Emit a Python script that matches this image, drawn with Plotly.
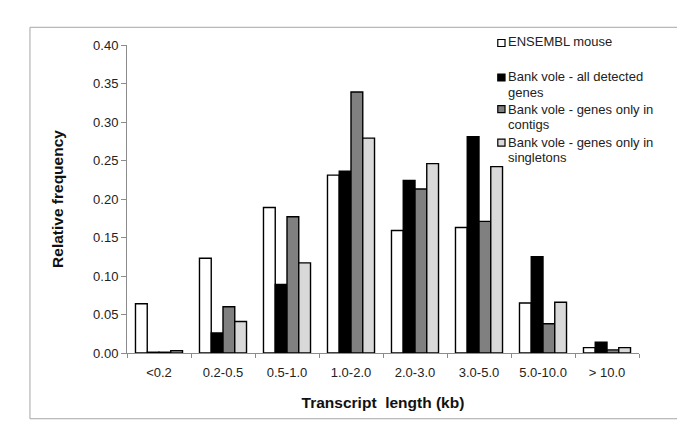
import plotly.graph_objects as go

categories = ["<0.2", "0.2-0.5", "0.5-1.0", "1.0-2.0", "2.0-3.0", "3.0-5.0", "5.0-10.0", "> 10.0"]
ensembl_mouse = [0.064, 0.123, 0.189, 0.231, 0.159, 0.163, 0.065, 0.007]
vole_all = [0.001, 0.026, 0.089, 0.236, 0.224, 0.281, 0.125, 0.014]
vole_contigs = [0.001, 0.060, 0.177, 0.339, 0.213, 0.171, 0.038, 0.004]
vole_singletons = [0.003, 0.041, 0.117, 0.279, 0.246, 0.242, 0.066, 0.007]

series_names = ["ENSEMBL mouse",
                "Bank vole - all detected<br>genes",
                "Bank vole - genes only in<br>contigs",
                "Bank vole - genes only in<br>singletons"]
series_values = [ensembl_mouse, vole_all, vole_contigs, vole_singletons]
series_colors = ["#ffffff", "#000000", "#808080", "#d9d9d9"]

FONT = "Liberation Sans, Arial, sans-serif"

# plot area in screen pixels (page has an 8px body margin)
PX0, PX1, PY_TOP, PY_BOT = 127.3, 623.3, 45.0, 352.8


def xp(X):
    return (X - PX0) / (PX1 - PX0)


def yp(Y):
    return (PY_BOT - Y) / (PY_BOT - PY_TOP)


fig = go.Figure()
for name, vals, col in zip(series_names, series_values, series_colors):
    fig.add_trace(go.Bar(
        x=categories, y=vals, name=name.replace("<br>", " "),
        marker=dict(color=col, line=dict(color="#000000", width=1.4)),
    ))

# manual legend (square swatch + left-aligned text lines)
legend_marker_y = [43.0, 77.5, 109.0, 142.5]
legend_line_y = [[42.0], [76.0, 92.0], [109.0, 124.5], [142.0, 157.0]]
shapes = [dict(type="rect", xref="paper", yref="paper",
               x0=xp(33.3), x1=xp(666.0), y0=yp(418.5), y1=yp(27.3),
               line=dict(color="#a6a6a6", width=1), fillcolor="rgba(0,0,0,0)",
               layer="below")]
annotations = []
for name, col, my, lys in zip(series_names, series_colors, legend_marker_y, legend_line_y):
    shapes.append(dict(type="rect", xref="paper", yref="paper",
                       x0=xp(486.5), x1=xp(493.5), y0=yp(my + 3.5), y1=yp(my - 3.5),
                       line=dict(color="#000000", width=1.2), fillcolor=col))
    for line_text, ly in zip(name.split("<br>"), lys):
        annotations.append(dict(xref="paper", yref="paper", x=xp(494.5), y=yp(ly),
                                xanchor="left", yanchor="middle", showarrow=False,
                                text=line_text,
                                font=dict(family=FONT, size=13, color="#222222")))

fig.update_layout(
    width=677, height=438,
    margin=dict(l=119.3, r=677 - 8 - PX1, t=PY_TOP - 8, b=438 + 8 - PY_BOT),
    paper_bgcolor="white", plot_bgcolor="white",
    barmode="group", bargap=0.265, bargroupgap=0,
    font=dict(family=FONT, size=13, color="#222222"),
    showlegend=False,
    xaxis=dict(
        type="category", range=[-0.5, 7.5],
        showline=True, linecolor="#8c8c8c", linewidth=1,
        ticks="outside", tickson="boundaries", ticklen=4, tickcolor="#8c8c8c",
        ticklabelstandoff=7,
        showgrid=False, zeroline=False,
        tickfont=dict(family=FONT, size=13, color="#222222"),
        title=dict(text="<b>Transcript&nbsp; length (kb)</b>", standoff=18,
                   font=dict(family=FONT, size=15.5, color="#111111")),
    ),
    yaxis=dict(
        range=[0, 0.40], dtick=0.05, tickformat=".2f",
        showline=True, linecolor="#8c8c8c", linewidth=1,
        ticks="outside", ticklen=5, tickcolor="#8c8c8c",
        showgrid=False, zeroline=False,
        tickfont=dict(family=FONT, size=13, color="#222222"),
        title=dict(text="<b>Relative frequency</b>", standoff=25,
                   font=dict(family=FONT, size=15.5, color="#111111")),
    ),
    shapes=shapes,
    annotations=annotations,
)

fig.write_html("out.html")
